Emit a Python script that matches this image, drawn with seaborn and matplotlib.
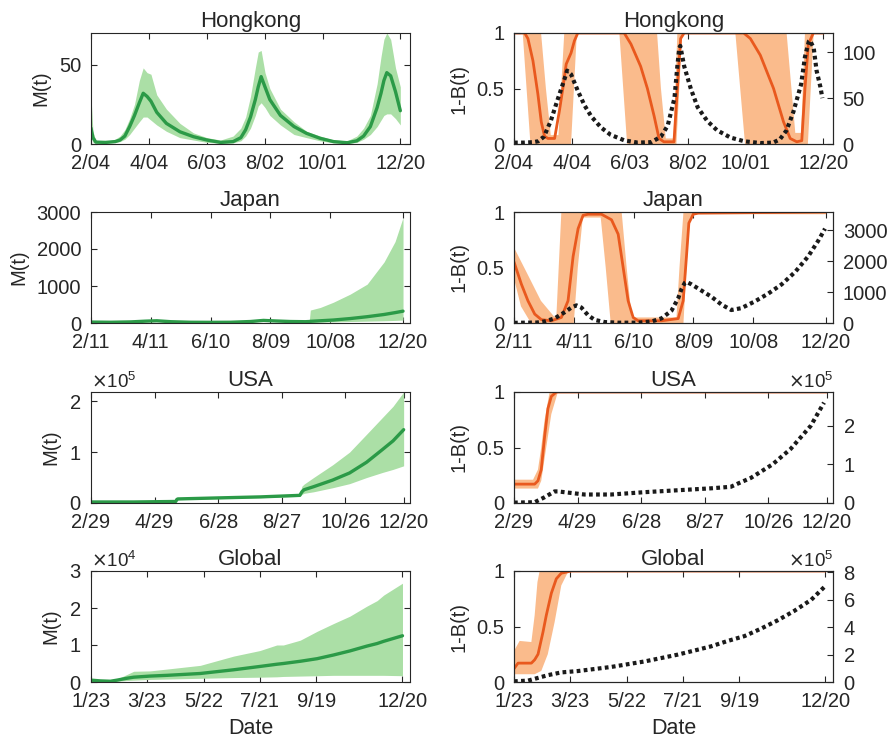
import numpy as np
import pandas as pd
import matplotlib
matplotlib.use("Agg")
import matplotlib.pyplot as plt
import seaborn as sns
from matplotlib.ticker import ScalarFormatter, FuncFormatter

# ---------------- data ----------------
# tick labels (dates, 2020) per region
hk_ticks = ["2/04", "4/04", "6/03", "8/02", "10/01", "12/20"]
jp_ticks = ["2/11", "4/11", "6/10", "8/09", "10/08", "12/20"]
us_ticks = ["2/29", "4/29", "6/28", "8/27", "10/26", "12/20"]
gl_ticks = ["1/23", "3/23", "5/22", "7/21", "9/19", "12/20"]

# ---- Hongkong M(t)
hk_m_day = [0, 2, 5, 15, 25, 30, 35, 40, 45, 50, 54, 58, 62, 68, 78, 92, 106, 120, 134, 147, 155, 160,
            165, 170, 173, 176, 180, 185, 196, 210, 223, 237, 251, 265, 275, 282, 289, 296, 300, 303,
            306, 310, 315, 320]
hk_m_mean = [10, 4, 1.2, 1, 1.5, 2.5, 5, 11, 18, 26, 32, 30, 27, 20, 13, 7.7, 4.6, 2.5, 1, 1.5, 4, 9,
             17, 28, 36, 42.5, 36, 28, 18, 11, 6.7, 3.6, 1.5, 0.8, 2, 5, 11, 23, 32, 40, 45, 43, 33, 21]
hk_m_hi = [30, 8, 2, 1.5, 3, 5, 9, 16, 25, 40, 48, 45, 44, 31, 22, 13, 7, 4, 2.5, 5, 10, 17, 30, 48,
           58, 59, 45, 35, 22, 14, 8, 5, 2.5, 2, 5, 10, 18, 38, 55, 66, 70, 66, 48, 36]
hk_m_lo = [5, 1, 0.5, 0.5, 1, 1.5, 3, 6, 10, 14, 17, 17, 15, 12, 8, 4, 2.5, 1, 0.5, 0.7, 2, 5, 10, 18,
           24, 26, 23, 18, 12, 6, 4, 2, 0.7, 0.3, 1, 3, 6, 11, 15, 18, 19, 19, 16, 12]

# ---- Hongkong 1-B(t)
hk_b_day = [0, 11, 14.4, 19.6, 24.7, 28.2, 31.6, 35, 42, 47, 50.5, 54, 59, 62.5, 66, 114, 121, 131,
            138, 145, 150, 155, 165.5, 169, 172.4, 176, 237.6, 244.5, 254.8, 268.5, 278.8, 285.7,
            292.5, 297.7, 301, 304.5, 309.7, 320]
hk_b_mean = [1, 1, 0.95, 0.75, 0.45, 0.2, 0.07, 0.05, 0.05, 0.3, 0.5, 0.72, 0.82, 0.93, 1, 1, 0.9,
             0.7, 0.5, 0.25, 0.05, 0.02, 0.02, 0.5, 0.95, 1, 1, 0.95, 0.8, 0.5, 0.2, 0.05, 0.02,
             0.03, 0.5, 0.9, 1, 1]
hk_bu_day = [0, 28, 33, 38, 46, 52, 148, 152, 157, 165, 169, 282, 287, 291, 297, 301, 320]
hk_bu = [1, 1, 0.5, 0.08, 0.08, 1, 1, 0.5, 0.05, 0.05, 1, 1, 0.5, 0.1, 0.1, 1, 1]
hk_bl_day = [0, 9, 13, 17, 59, 62, 65, 109, 113, 117, 168, 171, 174, 229, 234, 239, 304, 307, 310, 320]
hk_bl = [1, 1, 0.5, 0, 0, 0.5, 1, 1, 0.5, 0, 0, 0.5, 1, 1, 0.5, 0, 0, 0.5, 1, 1]
# ---- Hongkong cases (right axis)
hk_c_day = [0, 10, 20, 25, 31, 38, 45, 52, 55, 59, 66, 73, 80, 90, 100, 114, 128, 142, 152, 159, 166,
            169, 171, 172, 176, 183, 190, 200, 210, 224, 238, 255, 268, 275, 282, 289, 297, 301, 305,
            306, 310, 313, 317, 319]
hk_c = [1.5, 1.5, 2, 3, 8, 25, 48, 70, 80, 76, 58, 42, 30, 18, 10, 4, 1.5, 2, 8, 20, 50, 85, 105,
        107, 85, 60, 40, 25, 15, 7, 3, 1, 1.5, 5, 15, 35, 65, 95, 112, 113, 105, 80, 62, 50]

# ---- Japan M(t)
jp_m_day = [0, 20, 40, 55, 66, 80, 100, 120, 140, 160, 173, 185, 200, 215, 219, 220, 230, 243, 260,
            277, 294, 305, 313]
jp_m_mean = [25, 20, 30, 50, 60, 35, 20, 18, 20, 40, 70, 55, 40, 35, 40, 45, 60, 80, 120, 170, 230, 280, 320]
jp_m_hi = [40, 30, 45, 70, 85, 50, 30, 28, 30, 60, 100, 80, 60, 55, 60, 350, 420, 560, 780, 1050,
           1650, 2200, 2850]
jp_m_lo = [15, 10, 20, 35, 45, 25, 12, 10, 12, 25, 50, 40, 28, 25, 28, 20, 25, 30, 40, 50, 60, 70, 80]

# ---- Japan 1-B(t)
jp_b_day = [0, 7.4, 14, 20.8, 27.5, 37.5, 47.5, 54.2, 59.3, 64.3, 69.3, 74.3, 87.7, 97.8, 104.5,
            109.5, 114.5, 119.5, 124.5, 148, 164.7, 169.7, 173, 175.4, 179.8, 184.8, 313]
jp_b_mean = [0.55, 0.35, 0.2, 0.08, 0.03, 0.02, 0.05, 0.2, 0.6, 0.85, 0.97, 0.98, 0.98, 0.93, 0.8,
             0.5, 0.2, 0.05, 0.02, 0.02, 0.04, 0.2, 0.6, 0.9, 0.98, 0.99, 1]
jp_bu_day = [0, 13, 27, 40, 42.5, 47.5, 108, 113, 118, 163, 166, 170, 313]
jp_bu = [0.68, 0.45, 0.2, 0.06, 0.06, 1, 1, 0.5, 0.05, 0.05, 0.5, 1, 1]
jp_bl_day = [0, 7, 17, 60, 64, 69, 87, 92, 97, 170, 173, 176.5, 180, 313]
jp_bl = [0.4, 0.15, 0, 0, 0.5, 0.95, 0.95, 0.5, 0, 0, 0.5, 0.95, 0.98, 0.98]
jp_c_day = [0, 10, 23, 30.8, 40.8, 50.9, 57.6, 62.6, 67.6, 74.3, 81, 91, 104.5, 124.5, 138, 148, 158,
            164.7, 168, 171.4, 173, 178, 188, 198, 208, 218, 228, 241.7, 255, 268.5, 282, 295, 305, 312]
jp_c = [5, 10, 15, 50, 150, 350, 500, 570, 500, 250, 100, 30, 10, 10, 50, 150, 400, 800, 1100, 1300,
        1330, 1250, 1050, 850, 600, 420, 480, 700, 950, 1250, 1650, 2150, 2650, 3050]

# ---- USA M(t)
us_m_day = [0, 40, 80, 81, 82, 120, 160, 197, 199, 201, 210, 228, 244, 260, 275, 285, 295]
us_m_mean = [0.02e5, 0.02e5, 0.03e5, 0.07e5, 0.08e5, 0.10e5, 0.12e5, 0.15e5, 0.22e5, 0.26e5, 0.32e5,
             0.45e5, 0.59e5, 0.8e5, 1.05e5, 1.22e5, 1.44e5]
us_m_hi = [0.03e5, 0.03e5, 0.04e5, 0.085e5, 0.095e5, 0.115e5, 0.135e5, 0.17e5, 0.33e5, 0.37e5, 0.5e5,
           0.75e5, 1.0e5, 1.35e5, 1.68e5, 1.9e5, 2.18e5]
us_m_lo = [0.01e5, 0.01e5, 0.02e5, 0.055e5, 0.065e5, 0.085e5, 0.105e5, 0.13e5, 0.17e5, 0.19e5, 0.22e5,
           0.3e5, 0.38e5, 0.5e5, 0.6e5, 0.66e5, 0.73e5]

# ---- USA 1-B(t)
us_b_day = [0, 19.5, 22.6, 25.7, 28.9, 32, 35.2, 39.9, 295]
us_b_mean = [0.17, 0.17, 0.2, 0.3, 0.6, 0.85, 0.96, 1.0, 1.0]
us_bu_day = [0, 18, 22.6, 25.7, 28.9, 33.6, 295]
us_bu = [0.21, 0.21, 0.3, 0.5, 0.75, 1, 1]
us_bl_day = [0, 22.6, 25.7, 30.4, 35.2, 41.4, 295]
us_bl = [0.13, 0.13, 0.2, 0.5, 0.8, 1, 1]
us_c_day = [0, 19.5, 28.9, 38.3, 41.4, 66.5, 91.6, 123, 154.4, 185.8, 204.6, 211, 223.5, 243.9, 261,
            280, 292.5]
us_c = [0.01e5, 0.02e5, 0.15e5, 0.3e5, 0.3e5, 0.22e5, 0.22e5, 0.28e5, 0.33e5, 0.38e5, 0.42e5, 0.5e5,
        0.65e5, 1.0e5, 1.4e5, 2.0e5, 2.6e5]

# ---- Global M(t)
gl_m_day = [0, 10, 20.6, 27.7, 38, 45.5, 63, 81, 116.5, 152, 180, 198, 205, 223, 241, 258.5, 276, 294,
            305, 312, 332]
gl_m_mean = [0.05e4, 0.03e4, 0.02e4, 0.05e4, 0.1e4, 0.13e4, 0.16e4, 0.18e4, 0.23e4, 0.33e4, 0.42e4,
             0.48e4, 0.5e4, 0.56e4, 0.63e4, 0.73e4, 0.84e4, 0.97e4, 1.04e4, 1.1e4, 1.25e4]
gl_m_hi = [0.07e4, 0.05e4, 0.04e4, 0.08e4, 0.2e4, 0.29e4, 0.3e4, 0.35e4, 0.45e4, 0.7e4, 0.85e4,
           1.0e4, 1.0e4, 1.13e4, 1.37e4, 1.58e4, 1.78e4, 2.05e4, 2.2e4, 2.35e4, 2.67e4]
gl_m_lo = [0.03e4, 0.01e4, 0.01e4, 0.02e4, 0.04e4, 0.05e4, 0.07e4, 0.08e4, 0.1e4, 0.12e4, 0.13e4,
           0.14e4, 0.15e4, 0.16e4, 0.17e4, 0.18e4, 0.18e4, 0.18e4, 0.18e4, 0.18e4, 0.17e4]

# ---- Global 1-B(t)
gl_b_day = [0, 4.3, 18.5, 22, 25.6, 30.9, 34.4, 39.8, 45.1, 50.4, 61, 332]
gl_b_mean = [0.12, 0.17, 0.17, 0.2, 0.25, 0.45, 0.6, 0.8, 0.93, 0.98, 1.0, 1.0]
gl_bu_day = [0, 6, 18.5, 22, 25, 27.3, 332]
gl_bu = [0.28, 0.37, 0.36, 0.6, 0.9, 1.0, 1.0]
gl_bl_day = [0, 22, 29.1, 36, 43.3, 50.4, 57.5, 332]
gl_bl = [0.07, 0.07, 0.1, 0.25, 0.54, 0.87, 0.99, 1.0]
gl_c_day = [0, 15, 25.6, 36.2, 50.4, 68.2, 86, 103.7, 121.4, 139.2, 157, 174.7, 192.5, 210, 228,
            245.7, 263.5, 281, 299, 316.8, 331]
gl_c = [0.05e5, 0.1e5, 0.3e5, 0.5e5, 0.7e5, 0.8e5, 0.95e5, 1.1e5, 1.3e5, 1.5e5, 1.75e5, 2.0e5, 2.3e5,
        2.6e5, 3.0e5, 3.35e5, 3.9e5, 4.5e5, 5.2e5, 6.0e5, 6.95e5]

# ---------------- style ----------------
sns.set_theme(style="white")
plt.rcParams['font.family'] = ['Liberation Sans', 'DejaVu Sans']
TXT = '#262626'
plt.rcParams.update({
    'text.color': TXT, 'axes.labelcolor': TXT, 'xtick.color': TXT, 'ytick.color': TXT,
    'axes.edgecolor': TXT, 'axes.linewidth': 0.8,
})
GREEN = '#2b9a47'
GREEN_FILL = '#abdfa6'
ORANGE = '#e9591e'
ORANGE_FILL = '#fabb8c'
FS = 14.5

fig = plt.figure(figsize=(8.9, 7.49), dpi=100)

row_px = [(33, 144), (212, 323), (392, 503), (571, 682)]
W, H = 890.0, 749.0
left_x, right_x, ax_w = 91 / W, 514 / W, 319 / W


def day_positions(labels):
    d = pd.to_datetime(["2020/" + s for s in labels], format="%Y/%m/%d")
    return list((d - d[0]).days)


def style_axis(ax, ticks, xlim, show_xlabel):
    ax.set_xlim(*xlim)
    ax.set_xticks(day_positions(ticks))
    ax.set_xticklabels(ticks)
    ax.tick_params(axis='x', direction='in', length=4, width=0.8, labelsize=FS, pad=7,
                   top=True, bottom=True)
    ax.tick_params(axis='y', direction='in', length=4, width=0.8, labelsize=FS, pad=7)
    if show_xlabel:
        ax.set_xlabel("Date", fontsize=15.5, labelpad=5)
    else:
        ax.set_xlabel("")


def sci(axis_obj):
    f = ScalarFormatter(useMathText=True)
    f.set_powerlimits((0, 0))
    axis_obj.set_major_formatter(f)


regions = [
    ("Hongkong", hk_ticks, 330, (hk_m_day, hk_m_mean, hk_m_lo, hk_m_hi), (0, 70), [0, 50],
     (hk_b_day, hk_b_mean, hk_bu_day, hk_bu, hk_bl_day, hk_bl), (hk_c_day, hk_c), (0, 121), [0, 50, 100], False, False),
    ("Japan", jp_ticks, 320, (jp_m_day, jp_m_mean, jp_m_lo, jp_m_hi), (0, 3000), [0, 1000, 2000, 3000],
     (jp_b_day, jp_b_mean, jp_bu_day, jp_bu, jp_bl_day, jp_bl), (jp_c_day, jp_c), (0, 3590), [0, 1000, 2000, 3000], False, False),
    ("USA", us_ticks, 301, (us_m_day, us_m_mean, us_m_lo, us_m_hi), (0, 2.18e5), [0, 1e5, 2e5],
     (us_b_day, us_b_mean, us_bu_day, us_bu, us_bl_day, us_bl), (us_c_day, us_c), (0, 2.876e5), [0, 1e5, 2e5], True, True),
    ("Global", gl_ticks, 340, (gl_m_day, gl_m_mean, gl_m_lo, gl_m_hi), (0, 3e4), [0, 1e4, 2e4, 3e4],
     (gl_b_day, gl_b_mean, gl_bu_day, gl_bu, gl_bl_day, gl_bl), (gl_c_day, gl_c), (0, 8.1e5), [0, 2e5, 4e5, 6e5, 8e5], True, True),
]

for i, (name, ticks, xmax, mdat, mylim, myticks, bdat, cdat, cylim, cyticks, msci, csci) in enumerate(regions):
    top, bot = row_px[i]
    y0 = 1 - bot / H
    h = (bot - top) / H
    last = (i == 3)

    # ---- left: M(t)
    ax = fig.add_axes([left_x, y0, ax_w, h])
    d, mean, lo, hi = mdat
    df = pd.DataFrame({"day": d, "mean": mean, "lo": lo, "hi": hi})
    ax.fill_between(df["day"], df["lo"], df["hi"], color=GREEN_FILL, lw=0)
    sns.lineplot(data=df, x="day", y="mean", ax=ax, color=GREEN, lw=2.4)
    ax.set_ylim(*mylim)
    ax.set_yticks(myticks)
    if msci:
        sci(ax.yaxis)
        ax.yaxis.get_offset_text().set_fontsize(13.5)
    ax.tick_params(axis='y', right=True, left=True)
    ax.set_ylabel("M(t)", fontsize=FS, labelpad=6)
    ax.set_title(name, fontsize=16, pad=4)
    style_axis(ax, ticks, (0, xmax), last)

    # ---- right: 1-B(t) and cases
    ax = fig.add_axes([right_x, y0, ax_w, h])
    bd, bm, bud, bu, bld, bl = bdat
    px = list(bud) + list(bld)[::-1]
    py = list(bu) + list(bl)[::-1]
    ax.fill(px, py, color=ORANGE_FILL, lw=0)
    dfb = pd.DataFrame({"day": bd, "val": bm})
    sns.lineplot(data=dfb, x="day", y="val", ax=ax, color=ORANGE, lw=2.0)
    ax.set_ylim(0, 1)
    ax.set_yticks([0, 0.5, 1])
    ax.yaxis.set_major_formatter(FuncFormatter(lambda v, p: f"{v:g}"))
    ax.set_ylabel("1-B(t)", fontsize=FS, labelpad=6)
    ax.set_title(name, fontsize=16, pad=4)
    ax.tick_params(axis='y', right=False, left=True)
    style_axis(ax, ticks, (0, xmax), last)

    ax2 = ax.twinx()
    cd, cv = cdat
    dfc = pd.DataFrame({"day": cd, "cases": cv})
    sns.lineplot(data=dfc, x="day", y="cases", ax=ax2, color='#1a1a1a', lw=3.0,
                 linestyle=(0, (0.9, 0.8)))
    ax2.set_ylim(*cylim)
    ax2.set_yticks(cyticks)
    if csci:
        sci(ax2.yaxis)
        ax2.yaxis.get_offset_text().set_fontsize(13.5)
    ax2.set_ylabel("")
    ax2.tick_params(axis='y', direction='in', length=4, width=0.8, labelsize=FS, pad=7, right=True)
    ax2.set_xlim(0, xmax)

fig.savefig("out.png", dpi=100)
